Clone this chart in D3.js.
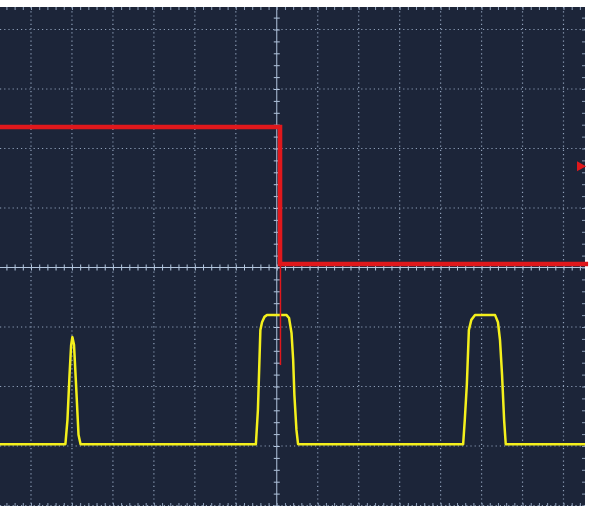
<!DOCTYPE html>
<html>
<head>
<meta charset="utf-8">
<script src="https://cdn.jsdelivr.net/npm/d3@7"></script>
<style>
  body { margin: 0; background: #fff; }
  svg { display: block; }
</style>
</head>
<body>
<script>
// Data (time in divisions, volts in divisions)
const redTime = [-6.76, 0.08, 0.08, 7.6];
const redVolt = [2.36, 2.36, 0.06, 0.06];
const redSpikeTime = [0.09, 0.09];
const redSpikeVolt = [0.06, -1.64];
const triggerLevel = 1.7;

const yellowTime = [-6.8, -5.16, -5.11, -5.06, -5.02, -4.99, -4.95, -4.90, -4.84, -4.79,
    -0.51, -0.46, -0.40, -0.36, -0.30, -0.24, 0.24, 0.30, 0.36, 0.40, 0.43, 0.48, 0.52,
    4.55, 4.59, 4.64, 4.69, 4.75, 4.84, 5.33, 5.40, 5.45, 5.50, 5.55, 5.59, 7.6];
const yellowVolt = [-2.97, -2.97, -2.56, -1.81, -1.30, -1.17, -1.30, -1.97, -2.81, -2.97,
    -2.97, -2.39, -1.05, -0.92, -0.83, -0.80, -0.80, -0.85, -1.10, -1.55, -2.14, -2.73, -2.97,
    -2.97, -2.56, -1.97, -1.05, -0.88, -0.80, -0.80, -0.92, -1.22, -1.81, -2.56, -2.97, -2.97];

const xDivs = d3.range(-6, 8);
const yDivs = d3.range(-4, 5);

const width = 589, height = 510;
const screen = { left: 0, top: 7, right: 585, bottom: 506 };

// Scales
let x = d3.scaleLinear().domain([-6, 7]).range([31, 563.5]);
let y = d3.scaleLinear().domain([4, -4]).range([29.5, 505.5]);

let svg = d3
    .select('body')
    .append('svg')
    .attr('width', width)
    .attr('height', height);

svg.append('defs')
    .append('clipPath')
    .attr('id', 'screen')
    .append('rect')
    .attr('x', screen.left)
    .attr('y', screen.top)
    .attr('width', screen.right - screen.left)
    .attr('height', screen.bottom - screen.top);

svg.append('rect')
    .attr('x', screen.left)
    .attr('y', screen.top)
    .attr('width', screen.right - screen.left)
    .attr('height', screen.bottom - screen.top)
    .attr('fill', '#1c2539');

let plot = svg.append('g').attr('clip-path', 'url(#screen)');

// Dotted grid
plot.selectAll('line.vgrid')
    .data(xDivs.filter(d => d !== 0))
    .enter()
    .append('line')
    .attr('class', 'vgrid')
    .attr('x1', d => x(d)).attr('x2', d => x(d))
    .attr('y1', screen.top).attr('y2', screen.bottom)
    .attr('stroke', '#8e9fb8')
    .attr('stroke-width', 1.2)
    .attr('stroke-dasharray', '1.2,3');

plot.selectAll('line.hgrid')
    .data(yDivs.filter(d => d !== 0))
    .enter()
    .append('line')
    .attr('class', 'hgrid')
    .attr('x1', screen.left).attr('x2', screen.right)
    .attr('y1', d => y(d)).attr('y2', d => y(d))
    .attr('stroke', '#8e9fb8')
    .attr('stroke-width', 1.2)
    .attr('stroke-dasharray', '1.2,3');

// Centre axes with minor ticks
const xMinor = d3.range(-34, 39).map(d => d / 5);
const yMinor = d3.range(-21, 22).map(d => d / 5);

let xAxis = plot.append('g').attr('transform', `translate(0, ${y(0)})`);
xAxis.call(d3.axisBottom(x).tickValues(xMinor).tickSize(3).tickFormat(''));
xAxis.append('g').call(d3.axisTop(x).tickValues(xMinor).tickSize(3).tickFormat(''));

let yAxis = plot.append('g').attr('transform', `translate(${x(0)}, 0)`);
yAxis.call(d3.axisLeft(y).tickValues(yMinor).tickSize(3).tickFormat(''));
yAxis.append('g').call(d3.axisRight(y).tickValues(yMinor).tickSize(3).tickFormat(''));

plot.selectAll('.domain').remove();
plot.selectAll('.tick line').attr('stroke', '#b3c6de');
xAxis.append('line')
    .attr('x1', screen.left).attr('x2', screen.right)
    .attr('stroke', '#b3c6de');
yAxis.append('line')
    .attr('y1', screen.top).attr('y2', screen.bottom)
    .attr('stroke', '#b3c6de');

// Edge ticks
let edgeX = plot.append('g').attr('transform', `translate(0, ${screen.top})`);
edgeX.call(d3.axisBottom(x).tickValues(xMinor).tickSize(3).tickFormat(''));
let edgeXb = plot.append('g').attr('transform', `translate(0, ${screen.bottom})`);
edgeXb.call(d3.axisTop(x).tickValues(xMinor).tickSize(3).tickFormat(''));
let edgeY = plot.append('g').attr('transform', `translate(${screen.right}, 0)`);
edgeY.call(d3.axisLeft(y).tickValues(yMinor).tickSize(3).tickFormat(''));
plot.selectAll('.domain').remove();
[edgeX, edgeXb, edgeY].forEach(g => g.selectAll('.tick line').attr('stroke', '#8e9fb8'));

// Traces
let line = d3.line().x(d => x(d[0])).y(d => y(d[1]));

plot.append('path')
    .datum(d3.zip(yellowTime, yellowVolt))
    .attr('d', line)
    .attr('fill', 'none')
    .attr('stroke', '#f4f01c')
    .attr('stroke-width', 2.5)
    .attr('stroke-linejoin', 'round');

plot.append('path')
    .datum(d3.zip(redSpikeTime, redSpikeVolt))
    .attr('d', line)
    .attr('fill', 'none')
    .attr('stroke', '#e0181c')
    .attr('stroke-width', 1.5);

svg.append('path')
    .datum(d3.zip(redTime, redVolt))
    .attr('d', line)
    .attr('fill', 'none')
    .attr('stroke', '#e0181c')
    .attr('stroke-width', 4.5);

// Trigger level marker
let ty = y(triggerLevel);
svg.append('path')
    .attr('d', `M${screen.right - 8},${ty - 5}L${screen.right + 1},${ty}L${screen.right - 8},${ty + 5}Z`)
    .attr('fill', '#e0181c');
</script>
</body>
</html>
